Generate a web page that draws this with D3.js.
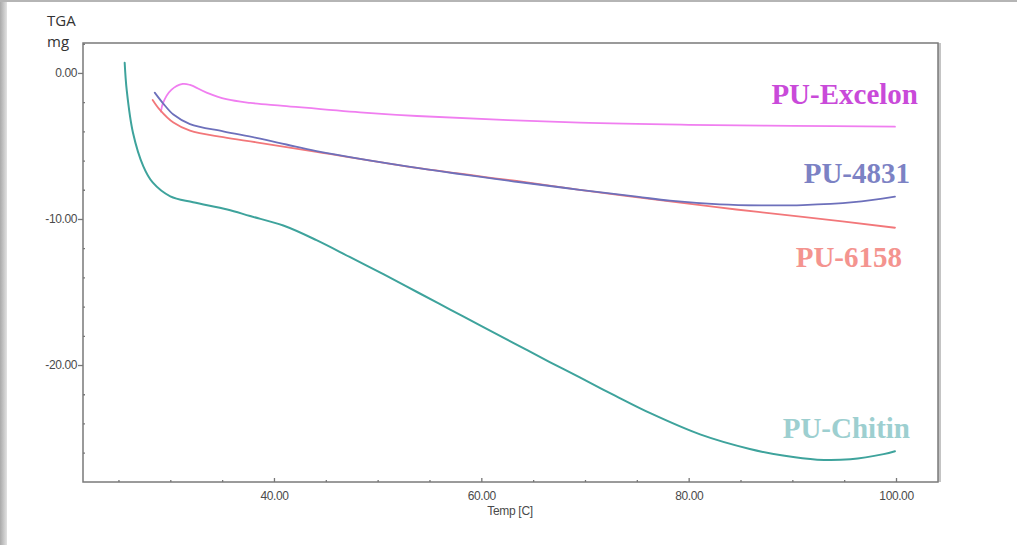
<!DOCTYPE html>
<html>
<head>
<meta charset="utf-8">
<script src="https://cdn.jsdelivr.net/npm/d3@7"></script>
<style>
  html, body { margin: 0; padding: 0; background: #ffffff; }
  svg { display: block; }
</style>
</head>
<body>
<svg id="chart" width="1017" height="545"></svg>
<script>
// ---- data ----
const xMajorTicks = [40, 60, 80, 100];
const xMinorTicks = [25, 30, 35, 45, 50, 55, 65, 70, 75, 85, 90, 95];
const yMajorTicks = [0, -10, -20];
const yMinorTicks = [2, -2, -4, -6, -8, -12, -14, -16, -18, -22, -24, -26];

const seriesNames = ["PU-Excelon", "PU-4831", "PU-6158", "PU-Chitin"];

const chitinTemp = [25.6, 25.8, 26.4, 27.4, 28.3, 30.0, 32.2, 35.5, 37.7, 40.9, 44.1, 47.3, 50.6, 53.8, 57.0, 60.2, 63.4, 66.6, 69.5, 72.9, 76.3, 81.1, 85.9, 89.1, 92.4, 95.6, 98.8, 99.9];
const chitinMass = [0.7, -1.2, -4.1, -6.4, -7.5, -8.45, -8.85, -9.35, -9.8, -10.45, -11.45, -12.6, -13.8, -15.0, -16.2, -17.4, -18.6, -19.8, -20.85, -22.1, -23.3, -24.75, -25.75, -26.2, -26.48, -26.45, -26.1, -25.9];

const excelonTemp = [29.1, 29.3, 30.1, 31.2, 31.9, 33.5, 35.4, 37.7, 40.9, 48.3, 53.8, 69.5, 80.0, 90.0, 99.9];
const excelonMass = [-2.65, -2.05, -1.16, -0.75, -0.82, -1.35, -1.8, -2.05, -2.25, -2.7, -2.95, -3.4, -3.55, -3.62, -3.68];

const pu4831Temp = [28.5, 29.3, 30.3, 31.9, 35.1, 38.3, 41.2, 44.1, 53.8, 63.4, 69.5, 75.0, 78.2, 83.0, 87.0, 91.0, 95.9, 99.9];
const pu4831Mass = [-1.35, -2.08, -2.85, -3.5, -4.0, -4.45, -4.9, -5.35, -6.5, -7.45, -8.0, -8.47, -8.75, -9.0, -9.07, -9.05, -8.85, -8.47];

const pu6158Temp = [28.3, 29.0, 30.3, 31.9, 35.1, 38.3, 44.1, 53.8, 63.4, 69.5, 78.2, 84.6, 91.0, 99.9];
const pu6158Mass = [-1.85, -2.53, -3.4, -3.95, -4.4, -4.75, -5.4, -6.5, -7.4, -8.0, -8.8, -9.35, -9.85, -10.6];

// ---- layout ----
const svg = d3.select("#chart");
const L = 83, R = 938, T = 43, B = 482;

const x = d3.scaleLinear().domain([21.58, 104.05]).range([L, R]);
const y = d3.scaleLinear().domain([-28.01, 2.05]).range([B, T]);

// outer picture frame / shadow
const defs = svg.append("defs");
const lg = defs.append("linearGradient").attr("id", "lshadow").attr("x1", "0").attr("x2", "1");
lg.append("stop").attr("offset", "0").attr("stop-color", "#a9a9a9");
lg.append("stop").attr("offset", "1").attr("stop-color", "#e2e2e2");
svg.append("rect").attr("x", 0).attr("y", 0).attr("width", 7).attr("height", 545).attr("fill", "url(#lshadow)");
svg.append("rect").attr("x", 0).attr("y", 0).attr("width", 1017).attr("height", 2).attr("fill", "#b5b5b5");

// plot frame
svg.append("line").attr("x1", R + 1.5).attr("x2", R + 1.5).attr("y1", T).attr("y2", B)
  .attr("stroke", "#c4c4c4").attr("stroke-width", 3);
svg.append("rect").attr("x", L).attr("y", T).attr("width", R - L).attr("height", B - T)
  .attr("fill", "none").attr("stroke", "#7a7a7a").attr("stroke-width", 1.5);

// axes
const fmt = d => d.toFixed(2);
const xAxisMajor = d3.axisBottom(x).tickValues(xMajorTicks).tickSize(-4).tickPadding(9).tickFormat(fmt);
const gx = svg.append("g").attr("transform", `translate(0,${B})`).call(xAxisMajor);
const xAxisMinor = d3.axisBottom(x).tickValues(xMinorTicks).tickSize(-2).tickFormat("");
const gx2 = svg.append("g").attr("transform", `translate(0,${B})`).call(xAxisMinor);

const yAxisMajor = d3.axisLeft(y).tickValues(yMajorTicks).tickSize(5).tickPadding(1).tickFormat(fmt);
const gy = svg.append("g").attr("transform", `translate(${L},0)`).call(yAxisMajor);
const yAxisMinor = d3.axisLeft(y).tickValues(yMinorTicks).tickSize(-2).tickFormat("");
const gy2 = svg.append("g").attr("transform", `translate(${L},0)`).call(yAxisMinor);

[gx, gx2, gy, gy2].forEach(g => {
  g.select(".domain").remove();
  g.selectAll(".tick line").attr("stroke", "#777").attr("stroke-width", 1.3);
  g.selectAll(".tick text")
    .attr("fill", "#4a4a4a")
    .style("font-family", "'Liberation Sans', Arial, sans-serif")
    .style("font-size", "12px")
    .style("letter-spacing", "-0.4px");
});

// axis titles
const titleFont = "'Open Sans', 'Liberation Sans', sans-serif";
svg.append("text").attr("x", 47).attr("y", 26).text("TGA")
  .style("font-family", titleFont).style("font-size", "15px").attr("fill", "#333");
svg.append("text").attr("x", 47).attr("y", 47).text("mg")
  .style("font-family", titleFont).style("font-size", "15px").attr("fill", "#333");
svg.append("text").attr("x", 510).attr("y", 515).attr("text-anchor", "middle").text("Temp  [C]")
  .style("font-family", "'Liberation Sans', Arial, sans-serif").style("font-size", "12px")
  .style("letter-spacing", "-0.3px").attr("fill", "#4a4a4a");

// curves
const lineCR = d3.line().x(d => x(d[0])).y(d => y(d[1])).curve(d3.curveCatmullRom.alpha(0.5));
const zip = (a, b) => a.map((v, i) => [v, b[i]]);

const curves = [
  { t: excelonTemp, m: excelonMass, color: "#f07ef0", w: 1.8 },
  { t: pu6158Temp, m: pu6158Mass, color: "#f2777a", w: 1.8 },
  { t: pu4831Temp, m: pu4831Mass, color: "#6d70bb", w: 1.8 },
  { t: chitinTemp, m: chitinMass, color: "#3ea39c", w: 2 }
];
curves.forEach(c => {
  svg.append("path").attr("d", lineCR(zip(c.t, c.m)))
    .attr("fill", "none").attr("stroke", c.color).attr("stroke-width", c.w)
    .attr("stroke-linejoin", "round").attr("stroke-linecap", "round");
});

// series labels
const labelStyle = [
  { name: seriesNames[0], x: 918, y: 104, color: "#c94ad9" },
  { name: seriesNames[1], x: 910, y: 183, color: "#7c82c4" },
  { name: seriesNames[2], x: 902, y: 267, color: "#f4948f" },
  { name: seriesNames[3], x: 910, y: 438, color: "#9dcfd0" }
];
labelStyle.forEach(l => {
  svg.append("text").attr("x", l.x).attr("y", l.y).attr("text-anchor", "end").text(l.name)
    .attr("fill", l.color)
    .style("font-family", "'Liberation Serif', 'Times New Roman', serif")
    .style("font-weight", "bold").style("font-size", "29px");
});
</script>
</body>
</html>
